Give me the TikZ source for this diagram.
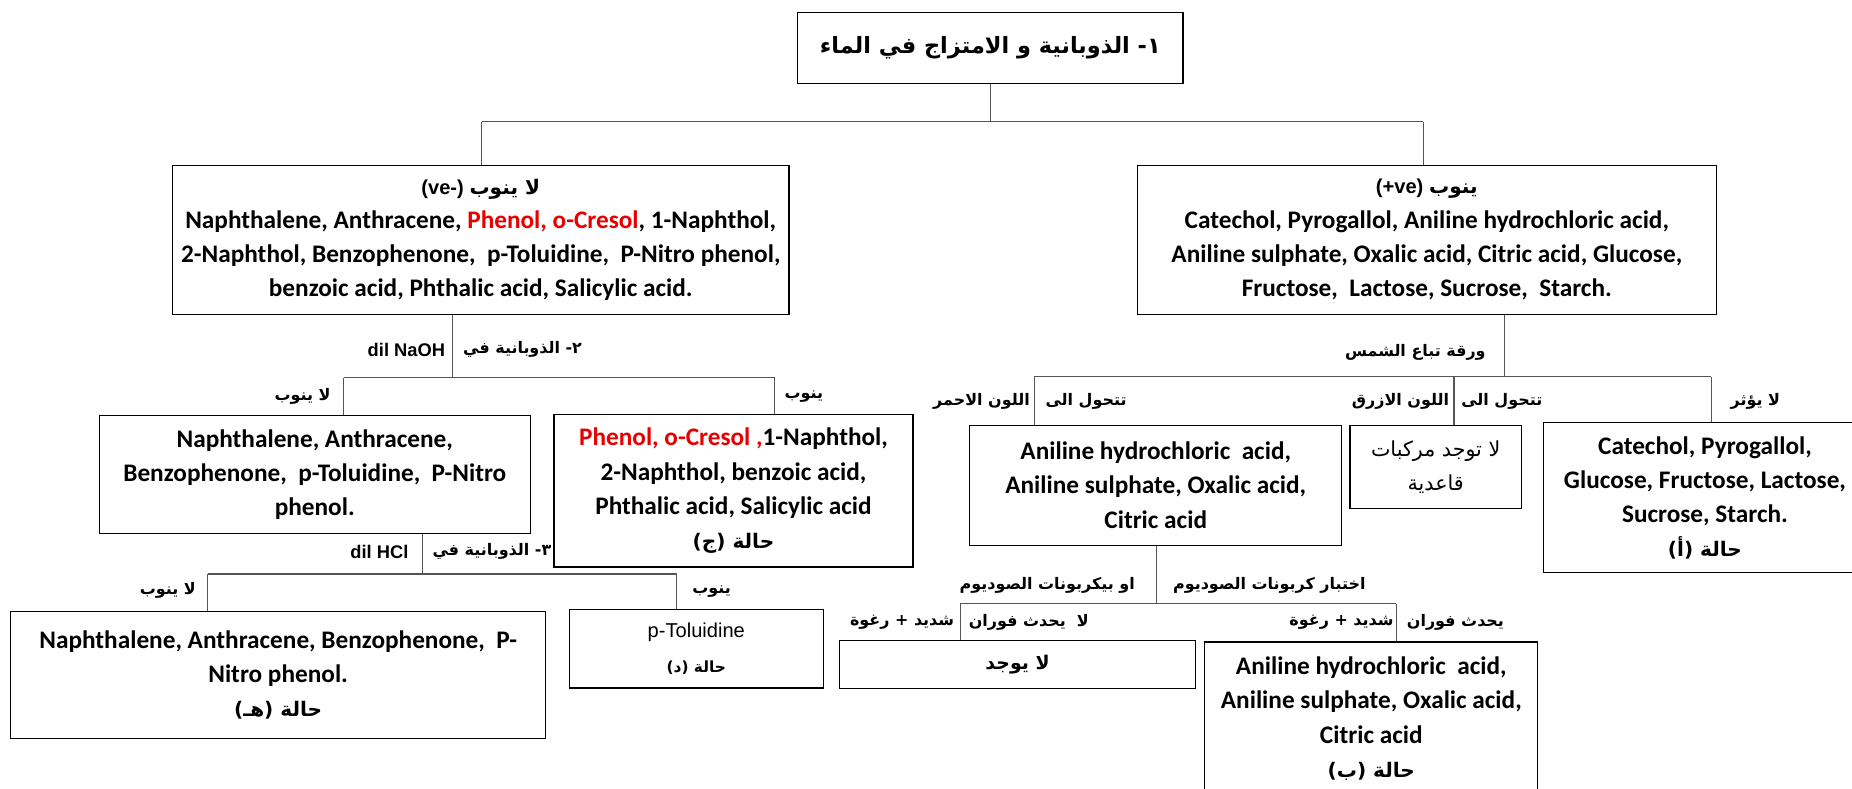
\documentclass[tikz,border=0pt]{standalone}
\usepackage{fontspec}
\setmainfont{Carlito}
\newfontfamily\arfont[Script=Arabic]{DejaVu Sans}
\newfontfamily\latlab{Liberation Sans}
\TeXXeTstate=1
\definecolor{chemred}{RGB}{232,0,0}
\definecolor{linegray}{RGB}{85,85,85}
% Arabic text, bold and regular, set right to left
\newcommand\arb[1]{{\arfont\bfseries\beginR #1\endR}}
\newcommand\arr[1]{{\arfont\mdseries\beginR #1\endR}}
\newcommand\fs[1]{\fontsize{#1}{29}\selectfont}
\begin{document}
\begin{tikzpicture}[x=1pt,y=-1pt,
  box/.style={draw=black,line width=1pt,inner sep=0pt,align=center,
    font=\bfseries\fontsize{21.4}{29}\selectfont},
  wirestyle/.style={draw=linegray,line width=0.9pt},
  lab/.style={inner sep=0pt,font=\fontsize{13.5}{16}\selectfont},
  latin/.style={inner sep=0pt,font=\latlab\bfseries\fontsize{15.5}{16}\selectfont}]
\useasboundingbox (0,0) rectangle (1568,668);
\fill[white] (0,0) rectangle (1568,668);

% ---- boxes ----
\node[box,minimum width=326pt,minimum height=60pt] (T) at (838.5,40.5)
  {\fontsize{19}{24}\selectfont\arb{١- الذوبانية و الامتزاج في الماء}};

\node[box,minimum width=522pt,minimum height=126pt] (L1) at (407,203)
  {{\latlab\fs{17}(ve-)} \arb{\fs{17}لا ينوب}\\
   Naphthalene, Anthracene, \textcolor{chemred}{Phenol, o-Cresol}, 1-Naphthol,\\
   2-Naphthol, Benzophenone,\ \ p-Toluidine,\ \ P-Nitro phenol,\\
   benzoic acid, Phthalic acid, Salicylic acid.};

\node[box,minimum width=490pt,minimum height=126pt] (R1) at (1208,203)
  {{\latlab\fs{17}(+ve)} \arb{\fs{17}ينوب}\\
   Catechol, Pyrogallol, Aniline hydrochloric acid,\\
   Aniline sulphate, Oxalic acid, Citric acid, Glucose,\\
   Fructose,\ \ Lactose, Sucrose,\ \ Starch.};

\node[box,minimum width=365pt,minimum height=100pt] (L2) at (266.5,402)
  {Naphthalene, Anthracene,\\
   Benzophenone,\ \ p-Toluidine,\ \ P-Nitro\\
   phenol.};

\node[box,minimum width=304pt,minimum height=129pt] (R2) at (621,415.5)
  {\textcolor{chemred}{Phenol, o-Cresol ,}1-Naphthol,\\
   2-Naphthol, benzoic acid,\\
   Phthalic acid, Salicylic acid\\
   \arb{\fs{17}حالة (ج)}};

\node[box,minimum width=453pt,minimum height=107pt] (L3) at (235.5,571.5)
  {Naphthalene, Anthracene, Benzophenone,\ \ P-\\
   Nitro phenol.\\
   \arb{\fs{17}حالة (هـ)}};

\node[box,minimum width=215pt,minimum height=66.5pt] (L4) at (589.5,549.25)
  {{\latlab\mdseries\fontsize{17}{24}\selectfont p-Toluidine}\\
   \arb{\fontsize{13}{24}\selectfont حالة (د)}};

\node[box,minimum width=315pt,minimum height=101.5pt] (RED) at (978.5,410.75)
  {Aniline hydrochloric\ \ acid,\\
   Aniline sulphate, Oxalic acid,\\
   Citric acid};

\node[box,minimum width=145pt,minimum height=70.5pt] (BLUE) at (1215.5,395.25)
  {\arr{\fontsize{17.5}{28}\selectfont لا توجد مركبات}\\
   \arr{\fontsize{17.5}{28}\selectfont قاعدية}};

\node[box,minimum width=273pt,minimum height=127pt] (A) at (1443.5,421.5)
  {Catechol, Pyrogallol,\\
   Glucose, Fructose, Lactose,\\
   Sucrose, Starch.\\
   \arb{\fs{17}حالة (أ)}};

\node[box,minimum width=301pt,minimum height=40.6pt] (NONE) at (861.5,562.3)
  {\arb{\fontsize{16}{20}\selectfont لا يوجد}};

\node[box,minimum width=282pt,minimum height=130pt] (B) at (1161,608.5)
  {Aniline hydrochloric\ \ acid,\\
   Aniline sulphate, Oxalic acid,\\
   Citric acid\\
   \arb{\fs{17}حالة (ب)}};

% ---- connectors: top level ----
\coordinate (jT) at (838.5,103);
\coordinate (jL1) at (408,103);
\coordinate (jR1) at (1205,103);
\draw[wirestyle] (T.south) -- (jT);
\draw[wirestyle] (jL1) -- (jR1);
\draw[wirestyle] (jL1) -- (jL1 |- L1.north);
\draw[wirestyle] (jR1) -- (jR1 |- R1.north);

% ---- dil NaOH branch ----
\coordinate (nA) at (383,320);
\coordinate (nL) at (291,320);
\coordinate (nR) at (656,320);
\draw[wirestyle] (nA |- L1.south) -- (nA);
\draw[wirestyle] (nL) -- (nR);
\draw[wirestyle] (nL) -- (nL |- L2.north);
\draw[wirestyle] (nR) -- (nR |- R2.north);
\node[latin,anchor=east] (naoh) at (377,296) {dil NaOH};
\node[lab,anchor=west] (sol2) at (392,296) {\arb{٢- الذوبانية في}};
\node[lab,anchor=east] (no2) at (280,336) {\arb{لا ينوب}};
\node[lab,anchor=west] (yes2) at (664,336) {\arb{ينوب}};

% ---- dil HCl branch ----
\coordinate (hA) at (358,486);
\coordinate (hL) at (176,486);
\coordinate (hR) at (573,486);
\draw[wirestyle] (hA |- L2.south) -- (hA);
\draw[wirestyle] (hL) -- (hR);
\draw[wirestyle] (hL) -- (hL |- L3.north);
\draw[wirestyle] (hR) -- (hR |- L4.north);
\node[latin,anchor=east] (hcl) at (346,467) {dil HCl};
\node[lab,anchor=west] (sol3) at (366,467) {\arb{٣- الذوبانية في}};
\node[lab,anchor=east] (no3) at (166,500) {\arb{لا ينوب}};
\node[lab,anchor=west] (yes3) at (586,501) {\arb{ينوب}};

% ---- litmus branch ----
\coordinate (mA) at (1274,319);
\coordinate (m1) at (875.5,319);
\coordinate (m2) at (1231,319);
\coordinate (m3) at (1449,319);
\draw[wirestyle] (mA |- R1.south) -- (mA);
\draw[wirestyle] (m1) -- (m3);
\draw[wirestyle] (m1) -- (m1 |- RED.north);
\draw[wirestyle] (m2) -- (m2 |- BLUE.north);
\draw[wirestyle] (m3) -- (m3 |- A.north);
\node[lab,anchor=east] (litmus) at (1258,298) {\arb{ورقة تباع الشمس}};
\node[lab,anchor=east] (redc) at (872,340) {\arb{اللون الاحمر}};
\node[lab,anchor=west] (turn1) at (885,340) {\arb{تتحول الى}};
\node[lab,anchor=east] (bluec) at (1227,340) {\arb{اللون الازرق}};
\node[lab,anchor=west] (turn2) at (1237,340) {\arb{تتحول الى}};
\node[lab,anchor=west] (noeff) at (1465,340) {\arb{لا يؤثر}};

% ---- carbonate branch ----
\coordinate (cA) at (979.5,511);
\coordinate (c1) at (813,511);
\coordinate (c2) at (1182,511);
\draw[wirestyle] (cA |- RED.south) -- (cA);
\draw[wirestyle] (c1) -- (c2);
\draw[wirestyle] (c1) -- (c1 |- NONE.north);
\draw[wirestyle] (c2) -- (c2 |- B.north);
\node[lab,anchor=east] (bicarb) at (961,496) {\arb{او بيكربونات الصوديوم}};
\node[lab,anchor=west] (carb) at (993,496) {\arb{اختبار كربونات الصوديوم}};
\node[lab,anchor=east] (foam1) at (808,527) {\arb{شديد + رغوة}};
\node[lab,anchor=west] (nofizz) at (820,527) {\arb{لا\ \ يحدث فوران}};
\node[lab,anchor=east] (foam2) at (1180,527) {\arb{شديد + رغوة}};
\node[lab,anchor=west] (fizz) at (1191,527) {\arb{يحدث فوران}};
\end{tikzpicture}
\end{document}
